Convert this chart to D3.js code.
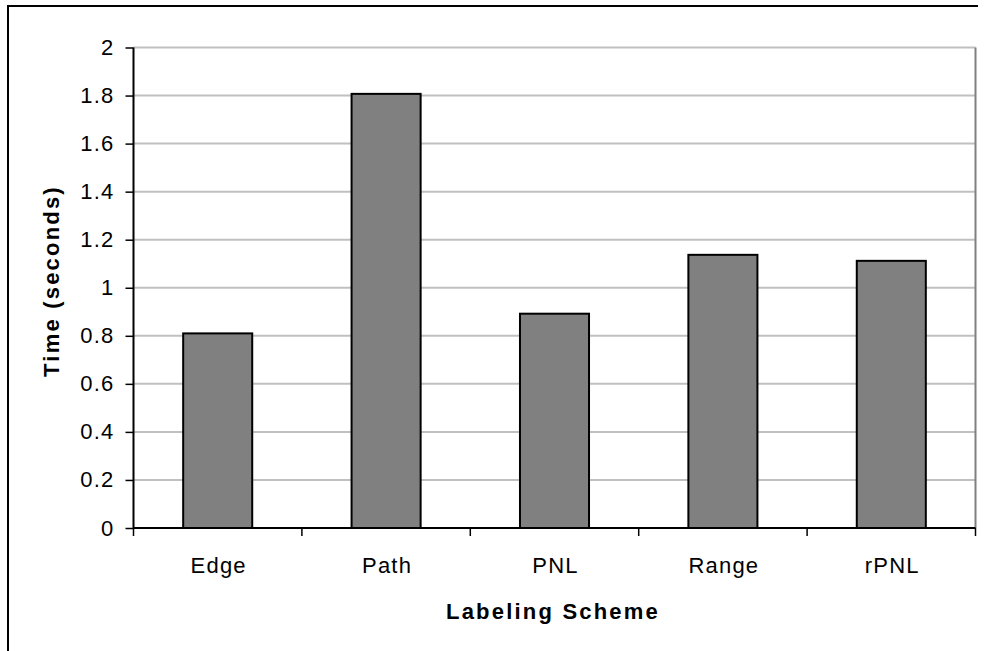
<!DOCTYPE html>
<html>
<head>
<meta charset="utf-8">
<script src="https://cdn.jsdelivr.net/npm/d3@7"></script>
<style>
  html, body { margin: 0; padding: 0; background: #fff; }
  text { font-family: Arial, "Liberation Sans", sans-serif; }
</style>
</head>
<body>
<svg id="chart" width="984" height="651"></svg>
<script>
const categories = ["Edge", "Path", "PNL", "Range", "rPNL"];
const values = [0.81, 1.807, 0.892, 1.137, 1.112];
const yTicks = [0, 0.2, 0.4, 0.6, 0.8, 1, 1.2, 1.4, 1.6, 1.8, 2];
const yTitle = "Time (seconds)";
const xTitle = "Labeling Scheme";

(function () {
const svg = d3.select("#chart");
const pLeft = 133.5, pRight = 975.5, pTop = 47.5, pBottom = 528;

// outer frame (top and left edges visible)
svg.append("path")
  .attr("d", `M8,651 V6 H978`)
  .attr("fill", "none").attr("stroke", "#000").attr("stroke-width", 2);

const x = d3.scaleBand().domain(categories).range([pLeft, pRight])
  .paddingInner(0.59).paddingOuter(0.295);
const y = d3.scaleLinear().domain([0, 2]).range([pBottom, pTop]);

// gridlines
svg.append("g").selectAll("line").data(yTicks.filter(d => d > 0)).join("line")
  .attr("x1", pLeft).attr("x2", pRight)
  .attr("y1", d => y(d)).attr("y2", d => y(d))
  .attr("stroke", "#c0c0c0").attr("stroke-width", 2);

// right plot border
svg.append("line").attr("x1", pRight).attr("x2", pRight).attr("y1", pTop).attr("y2", pBottom)
  .attr("stroke", "#808080").attr("stroke-width", 2);

// bars
svg.append("g").selectAll("rect").data(categories).join("rect")
  .attr("x", d => x(d))
  .attr("y", (d, i) => y(values[i]))
  .attr("width", x.bandwidth())
  .attr("height", (d, i) => y(0) - y(values[i]))
  .attr("fill", "#808080").attr("stroke", "#000").attr("stroke-width", 2);

// y axis
const yAxis = d3.axisLeft(y).tickValues(yTicks).tickSize(8).tickPadding(11)
  .tickFormat(d => d3.format("~g")(d));
const gy = svg.append("g").attr("transform", `translate(${pLeft},0)`).call(yAxis);
gy.select(".domain").attr("stroke", "#000").attr("stroke-width", 2).attr("d", `M0,${pTop}V${pBottom}`);
gy.selectAll(".tick line").attr("stroke", "#000").attr("stroke-width", 1.5);
gy.selectAll(".tick text").attr("fill", "#000").style("font-size", "22px")
  .style("letter-spacing", "1.2px").attr("font-family", "Arial, 'Liberation Sans', sans-serif");

// x axis with ticks at category boundaries
const step = x.step();
const boundaries = d3.range(categories.length + 1).map(i => pLeft + i * step);
svg.append("line").attr("x1", pLeft).attr("x2", pRight).attr("y1", pBottom).attr("y2", pBottom)
  .attr("stroke", "#000").attr("stroke-width", 2);
svg.append("g").selectAll("line").data(boundaries).join("line")
  .attr("x1", d => d).attr("x2", d => d).attr("y1", pBottom).attr("y2", pBottom + 8)
  .attr("stroke", "#000").attr("stroke-width", 1.5);
svg.append("g").selectAll("text").data(categories).join("text")
  .attr("x", d => x(d) + x.bandwidth() / 2 + 1)
  .attr("y", 573)
  .attr("text-anchor", "middle")
  .style("font-size", "22px").style("letter-spacing", "1.2px")
  .text(d => d);

// titles
svg.append("text").attr("x", 553).attr("y", 619).attr("text-anchor", "middle")
  .style("font-size", "22px").style("font-weight", "bold").style("letter-spacing", "2.2px")
  .text(xTitle);
svg.append("text").attr("transform", `translate(59,281) rotate(-90)`).attr("text-anchor", "middle")
  .style("font-size", "22px").style("font-weight", "bold").style("letter-spacing", "2.2px")
  .text(yTitle);
})();
</script>
</body>
</html>
